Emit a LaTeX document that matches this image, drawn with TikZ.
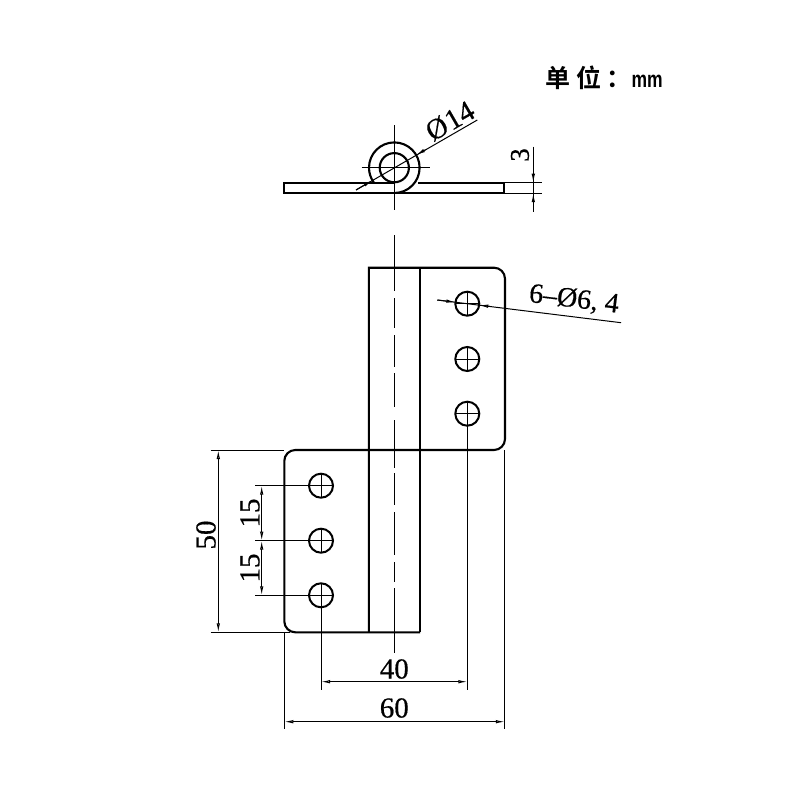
\documentclass[tikz,border=0pt]{standalone}
\usepackage{fontspec}
\setmainfont{Liberation Serif}[AutoFakeBold=0.5]
\newfontfamily\cjkbold{Noto Sans CJK SC}[BoldFont={Noto Sans CJK SC Bold}]
\newfontfamily\unitfont{Liberation Sans}
\usetikzlibrary{arrows.meta,calc}
\tikzset{
  x=1pt,y=1pt,
  outline/.style={line width=2.1pt,line join=miter},
  thin line/.style={line width=1pt},
  tick/.style={line width=1pt,-{Latex[open,length=9pt,width=3.5pt]}},
  dimboth/.style={line width=1pt,{Latex[open,length=9pt,width=3.5pt]}-{Latex[open,length=9pt,width=3.5pt]}},
  dimtext/.style={inner sep=0pt,font=\fontsize{29}{29}\selectfont},
  smalltext/.style={inner sep=0pt,font=\fontsize{27}{27}\selectfont},
  hole/.style={line width=2pt},
}
\begin{document}
\begin{tikzpicture}
\useasboundingbox[fill=white] (0,0) rectangle (800,-800);

% ---- reference points
\coordinate (C) at (394.3,-167.7);
\foreach \n/\y in {a/303.7,b/359,c/413.7} \coordinate (U\n) at (467.3,-\y);
\foreach \n/\y in {a/485.7,b/540.7,c/595.3} \coordinate (L\n) at (321,-\y);

% ---- top view
\draw[outline] (394.3,-193) arc[start angle=-90,end angle=216.3,radius=25.3];
\draw[outline] (C) circle[radius=14.6];
\draw[outline] (394.3,-182.7) -- (284.3,-182.7) -- (284.3,-193.2) -- (504.3,-193.2) -- (504.3,-182.7) -- (417.5,-182.7);
\draw[thin line] (394.3,-125) -- (394.3,-210);
\draw[thin line] (361.7,-167.7) -- (430,-167.7);
\coordinate (ld1) at (356,-190);
\coordinate (ld2) at (477.3,-120);
\draw[thin line] (ld1) -- (ld2);
\draw[tick] (ld1) -- ($(C)+(210:25.3)$);
\draw[tick] ($(C)+(30:36)$) -- ($(C)+(30:25.3)$);
\node[dimtext,rotate=30] (d14) at (450,-121) {\bfseries Ø\kern1pt 14};

% dimension 3
\draw[thin line] (504.3,-182.7) -- (541.7,-182.7);
\draw[thin line] (504.3,-193.2) -- (541.7,-193.2);
\draw[thin line] (533.3,-146.7) -- (533.3,-211.7);
\draw[tick] (533.3,-170) -- (533.3,-182.7);
\draw[tick] (533.3,-206) -- (533.3,-193.2);
\node[smalltext,rotate=90] (d3) at (520,-155) {\bfseries 3};

% ---- front view: upper leaf
\draw[outline] (420,-450) -- (494,-450) arc[start angle=-90,end angle=0,radius=11] -- (505,-278.7)
  arc[start angle=0,end angle=90,radius=11] -- (368.8,-267.7) -- (368.8,-632.3);
\draw[outline] (420,-267.7) -- (420,-632.3);
% ---- front view: lower leaf
\draw[outline] (420,-632.3) -- (295.3,-632.3) arc[start angle=270,end angle=180,radius=11] -- (284.3,-461)
  arc[start angle=180,end angle=90,radius=11] -- (420,-450);
% centre line
\foreach \a/\b in {235/291,298/328,335/367,373/407,420/468,473/505,512/555,562/582,588/653}
  \draw[thin line] (394.3,-\a) -- (394.3,-\b);

% holes
\foreach \n in {Ua,Ub,Uc,La,Lb,Lc}{
  \draw[hole] (\n) circle[radius=12];
  \draw[thin line] ($(\n)+(-12,0)$) -- ($(\n)+(12,0)$);
  \draw[thin line] ($(\n)+(0,-12)$) -- ($(\n)+(0,12)$);
}

% hole callout
\coordinate (ld3) at (437.3,-300);
\coordinate (ld4) at (621,-322.7);
\draw[thin line] (ld3) -- (ld4);
\draw[tick] (ld3) -- (455.4,-302.2);
\draw[tick] (490,-306.4) -- (479.2,-305.2);
\node[dimtext,rotate=-7,font=\fontsize{28}{28}\selectfont] (d64) at (574,-300) {\bfseries 6–Ø6, 4};

% dimensions left
\draw[thin line] (210.7,-450) -- (284.3,-450);
\draw[thin line] (210.7,-632.3) -- (290,-632.3);
\draw[dimboth] (218.3,-450) -- (218.3,-632.3);
\node[dimtext,rotate=90] (d50) at (206,-535) {\bfseries 50};
\foreach \n in {a,b,c} \draw[thin line] (255,0 |- L\n) -- ($(L\n)+(-12,0)$);
\draw[dimboth] (261.7,-485.7) -- (261.7,-540.7);
\draw[dimboth] (261.7,-540.7) -- (261.7,-595.3);
\node[dimtext,rotate=90] (d15a) at (250,-513) {\bfseries 15};
\node[dimtext,rotate=90] (d15b) at (250,-568) {\bfseries 15};

% dimensions bottom
\draw[thin line] ($(Lc)+(0,-12)$) -- (321,-690);
\draw[thin line] ($(Uc)+(0,-12)$) -- (467.3,-690);
\draw[dimboth] (321,-681.7) -- (467.3,-681.7);
\node[dimtext] (d40) at (394.3,-669) {\bfseries 40};
\draw[thin line] (284.3,-632.3) -- (284.3,-729);
\draw[thin line] (504.8,-450) -- (504.8,-729);
\draw[dimboth] (284.3,-721.7) -- (504.8,-721.7);
\node[dimtext] (d60) at (394.3,-708) {\bfseries 60};

% unit note
\node[inner sep=0pt,anchor=base west,font=\cjkbold\bfseries\fontsize{25}{25}\selectfont] (unit) at (545.5,-87) {单\hspace{5.5pt}位\hspace{5.5pt}：};
\node[inner sep=0pt,anchor=base west,xscale=0.76,font=\unitfont\bfseries\fontsize{23}{23}\selectfont] (mm) at (631.5,-87) {mm};
\end{tikzpicture}
\end{document}
